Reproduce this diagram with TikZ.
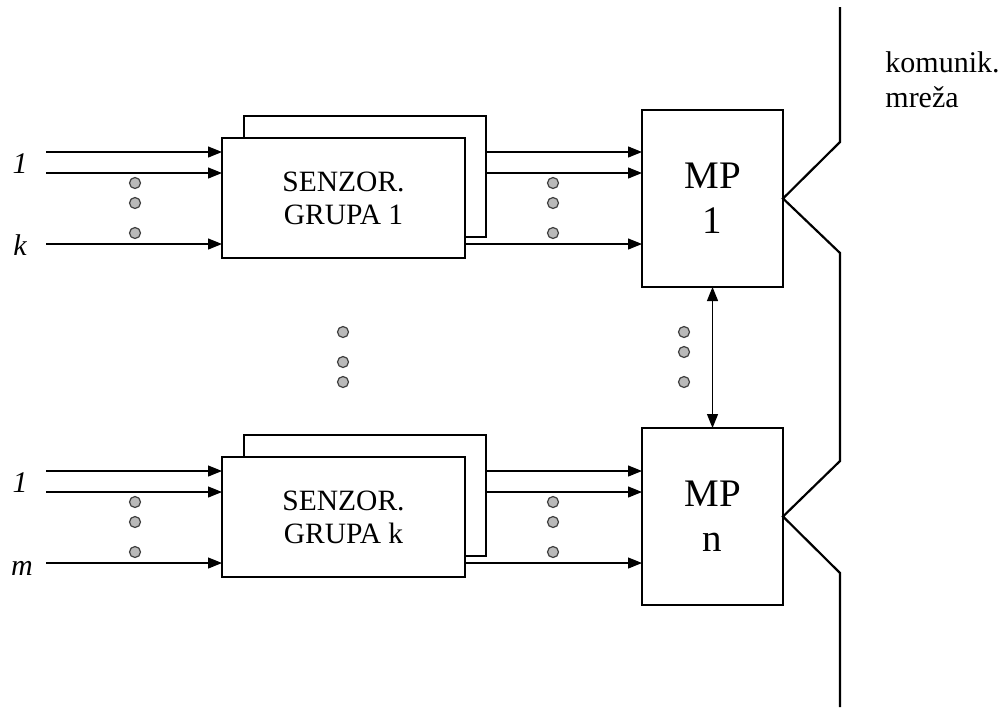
\documentclass[tikz,border=0pt]{standalone}
\usepackage{fontspec}
\setmainfont{Liberation Serif}
\usetikzlibrary{arrows.meta}
\tikzset{
    sensor-box/.style = {draw, fill=white, line width=0.85pt, rectangle, inner sep=0pt, outer sep=0pt, minimum width=121.5pt, minimum height=60pt, align=center, font=\fontsize{14.75}{16.5}\selectfont},
    sensor-back/.style = {sensor-box, minimum width=121pt, minimum height=60.5pt},
    mp-box/.style = {draw, fill=white, line width=0.85pt, rectangle, inner sep=0pt, outer sep=0pt, minimum width=70.5pt, minimum height=88.5pt, align=center, font=\fontsize{19.5}{22.5}\selectfont},
    signal-arrow/.style = {-{Triangle[length=7pt,width=5.5pt]}, line width=0.6pt},
    both-arrow/.style = {{Triangle[length=7pt,width=5.5pt]}-{Triangle[length=7pt,width=5.5pt]}, line width=0.6pt},
    dot-mark/.style = {circle, fill=gray!55, draw=gray!50!black, line width=0.6pt, inner sep=0pt, minimum size=5.5pt},
    line-label/.style = {font=\fontsize{15}{18}\selectfont\itshape, anchor=base, inner sep=0pt},
    net-line/.style = {line width=1.1pt, line join=miter},
}

\begin{document}
\begin{tikzpicture}[x=0.5pt, y=-0.5pt]
\useasboundingbox (0,0) rectangle (999,707);

% first sensor group
\node [sensor-back] (s1b) at (365,176.5) {};
\node [sensor-box] (s1) at (343.5,198) {SENZOR.\\GRUPA 1};
\node [mp-box] (mp1) at (712.5,198.5) {MP\\1};

\coordinate (in1-a) at (46,152);
\coordinate (in1-b) at (46,173);
\coordinate (in1-k) at (46,244);
\node [line-label] (lbl1-a) at (20,173) {1};
\node [line-label] (lbl1-k) at (20,255) {k};

\draw [signal-arrow] (in1-a) -- (in1-a -| s1.west);
\draw [signal-arrow] (in1-b) -- (in1-b -| s1.west);
\draw [signal-arrow] (in1-k) -- (in1-k -| s1.west);
\draw [signal-arrow] (in1-a -| s1b.east) -- (in1-a -| mp1.west);
\draw [signal-arrow] (in1-b -| s1b.east) -- (in1-b -| mp1.west);
\draw [signal-arrow] (in1-k -| s1.east) -- (in1-k -| mp1.west);

\node [dot-mark] (d1-in-a) at (135,183) {};
\node [dot-mark] (d1-in-b) at (135,203) {};
\node [dot-mark] (d1-in-c) at (135,233) {};
\node [dot-mark] (d1-out-a) at (553,183) {};
\node [dot-mark] (d1-out-b) at (553,203) {};
\node [dot-mark] (d1-out-c) at (553,233) {};

% dots between the groups
\node [dot-mark] (dm-a) at (343,332) {};
\node [dot-mark] (dm-b) at (343,362) {};
\node [dot-mark] (dm-c) at (343,382) {};
\node [dot-mark] (dp-a) at (684,332) {};
\node [dot-mark] (dp-b) at (684,352) {};
\node [dot-mark] (dp-c) at (684,382) {};

% last sensor group
\node [sensor-back] (skb) at (365,495.5) {};
\node [sensor-box] (sk) at (343.5,517) {SENZOR.\\GRUPA k};
\node [mp-box] (mpn) at (712.5,516.5) {MP\\n};

\coordinate (ink-a) at (46,471);
\coordinate (ink-b) at (46,492);
\coordinate (ink-m) at (46,563);
\node [line-label] (lblk-a) at (20,492) {1};
\node [line-label] (lblk-m) at (22,575) {m};

\draw [signal-arrow] (ink-a) -- (ink-a -| sk.west);
\draw [signal-arrow] (ink-b) -- (ink-b -| sk.west);
\draw [signal-arrow] (ink-m) -- (ink-m -| sk.west);
\draw [signal-arrow] (ink-a -| skb.east) -- (ink-a -| mpn.west);
\draw [signal-arrow] (ink-b -| skb.east) -- (ink-b -| mpn.west);
\draw [signal-arrow] (ink-m -| sk.east) -- (ink-m -| mpn.west);

\node [dot-mark] (dk-in-a) at (135,502) {};
\node [dot-mark] (dk-in-b) at (135,522) {};
\node [dot-mark] (dk-in-c) at (135,552) {};
\node [dot-mark] (dk-out-a) at (553,502) {};
\node [dot-mark] (dk-out-b) at (553,522) {};
\node [dot-mark] (dk-out-c) at (553,552) {};

% link between the processors
\draw [both-arrow] (mp1.south) -- (mpn.north);

% communication network
\coordinate (net-top) at (840,7);
\coordinate (net-bottom) at (840,707);
\draw [net-line] (net-top) -- (840,142) -- (mp1.east) -- (840,253)
    -- (840,461) -- (mpn.east) -- (840,573) -- (net-bottom);
\node [anchor=west, align=left, inner sep=0pt, font=\fontsize{15}{17.5}\selectfont] (net-label) at (885,80) {komunik.\\mreža};
\end{tikzpicture}
\end{document}
